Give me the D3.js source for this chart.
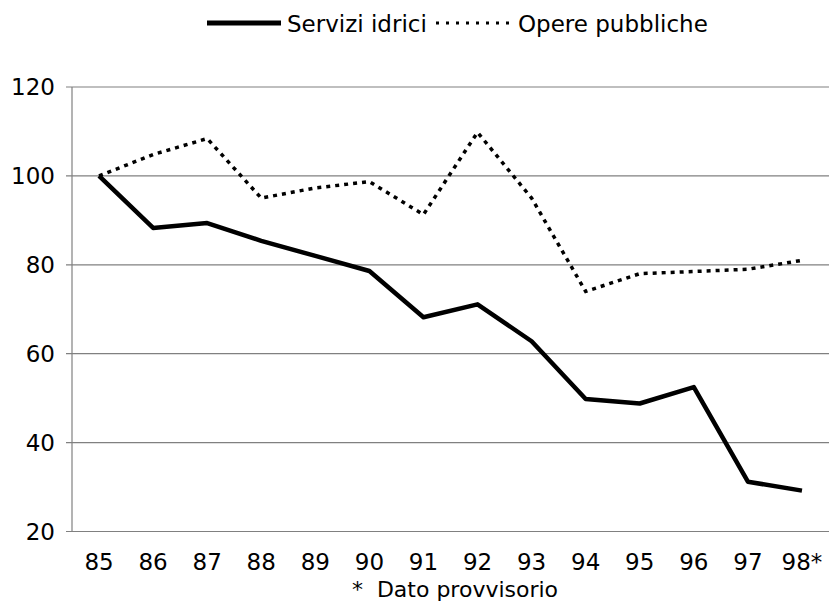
<!DOCTYPE html>
<html>
<head>
<meta charset="utf-8">
<script src="https://cdnjs.cloudflare.com/ajax/libs/d3/7.8.5/d3.min.js"></script>
<style>
	body, html { margin: 0; padding: 0; background: #fff; }
	svg text { font-family: "DejaVu Sans", Verdana, sans-serif; fill: #000; font-size: 23px; }
</style>
</head>
<body>
<svg id="chart" width="829" height="602"></svg>
<script>
	// data
	var years = ["85", "86", "87", "88", "89", "90", "91", "92", "93", "94", "95", "96", "97", "98*"];
	var serviziIdrici = [100, 88.3, 89.4, 85.4, 82, 78.6, 68.2, 71.1, 62.8, 49.8, 48.8, 52.5, 31.2, 29.2];
	var operePubbliche = [100, 104.8, 108.4, 95, 97.3, 98.7, 91.3, 109.8, 95, 74, 78, 78.5, 79, 81];
	var yTicks = [20, 40, 60, 80, 100, 120];
	var seriesNames = ["Servizi idrici", "Opere pubbliche"];
	var note = "*  Dato provvisorio";

	var svg = d3.select("#chart");
	var plotLeft = 72, plotRight = 829, plotTop = 87, plotBottom = 531.5;

	var x = d3.scalePoint().domain(years).range([plotLeft, plotRight]).padding(0.5);
	var y = d3.scaleLinear().domain([20, 120]).range([plotBottom, plotTop]);

	// gridlines
	svg.append("g")
		.selectAll("line")
		.data(yTicks)
	  .enter().append("line")
		.attr("x1", plotLeft - 6)
		.attr("x2", plotRight)
		.attr("y1", function(d) { return y(d); })
		.attr("y2", function(d) { return y(d); })
		.attr("stroke", "#808080")
		.attr("stroke-width", 1.2);

	// y axis line
	svg.append("line")
		.attr("x1", plotLeft).attr("x2", plotLeft)
		.attr("y1", plotTop).attr("y2", plotBottom)
		.attr("stroke", "#808080")
		.attr("stroke-width", 1.2);

	// y labels
	svg.append("g")
		.selectAll("text")
		.data(yTicks)
	  .enter().append("text")
		.attr("x", 55)
		.attr("y", function(d) { return y(d); })
		.attr("dy", "0.36em")
		.attr("text-anchor", "end")
		.text(function(d) { return d; });

	// x labels
	svg.append("g")
		.selectAll("text")
		.data(years)
	  .enter().append("text")
		.attr("x", function(d) { return x(d); })
		.attr("y", 570)
		.attr("text-anchor", "middle")
		.text(function(d) { return d; });

	svg.append("text")
		.attr("x", 455)
		.attr("y", 596.5)
		.attr("text-anchor", "middle")
		.attr("xml:space", "preserve")
		.style("white-space", "pre")
		.style("font-size", "22px")
		.text(note);

	var line = d3.line()
		.x(function(d, i) { return x(years[i]); })
		.y(function(d) { return y(d); });

	svg.append("path")
		.datum(operePubbliche)
		.attr("d", line)
		.attr("fill", "none")
		.attr("stroke", "#000")
		.attr("stroke-width", 3.5)
		.attr("stroke-dasharray", "4,5");

	svg.append("path")
		.datum(serviziIdrici)
		.attr("d", line)
		.attr("fill", "none")
		.attr("stroke", "#000")
		.attr("stroke-width", 4.5)
		.attr("stroke-linejoin", "round");

	// legend
	var legend = svg.append("g");
	legend.append("line")
		.attr("x1", 207).attr("x2", 281)
		.attr("y1", 23).attr("y2", 23)
		.attr("stroke", "#000")
		.attr("stroke-width", 5);
	legend.append("text")
		.attr("x", 287).attr("y", 32)
		.text(seriesNames[0]);
	legend.append("line")
		.attr("x1", 436).attr("x2", 510)
		.attr("y1", 23).attr("y2", 23)
		.attr("stroke", "#000")
		.attr("stroke-width", 3)
		.attr("stroke-dasharray", "3,7");
	legend.append("text")
		.attr("x", 518).attr("y", 32)
		.text(seriesNames[1]);
</script>
</body>
</html>
